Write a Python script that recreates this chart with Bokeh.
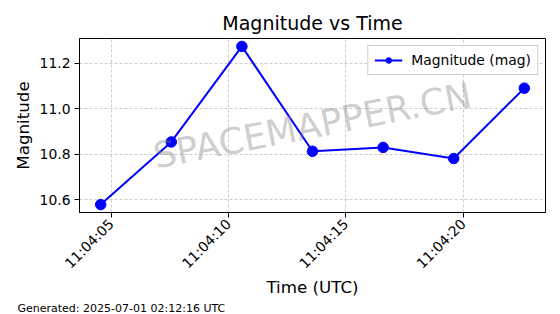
import math
from datetime import datetime, timedelta
from bokeh.plotting import figure
from bokeh.models import (ColumnDataSource, Range1d, DatetimeTickFormatter, SingleIntervalTicker,
                          Label, Legend, LegendItem, Title, NumeralTickFormatter)
from bokeh.embed import file_html
from bokeh.resources import INLINE

# ---- data ----
base = datetime(2025, 7, 1, 11, 4, 0)
seconds = [4.55, 7.56, 10.57, 13.58, 16.59, 19.60, 22.61]
magnitudes = [10.578, 10.854, 11.275, 10.813, 10.830, 10.781, 11.091]
title_text = "Magnitude vs Time"
x_label = "Time (UTC)"
y_label = "Magnitude"
legend_label = "Magnitude (mag)"
watermark = "SPACEMAPPER.CN"
footnote = "Generated: 2025-07-01 02:12:16 UTC"

times = [base + timedelta(seconds=s) for s in seconds]
src = ColumnDataSource(dict(t=times, m=magnitudes))

FONT = "DejaVu Sans"

tmin = min(times); tmax = max(times)
tspan = (tmax - tmin).total_seconds()
xr = Range1d(tmin - timedelta(seconds=0.05 * tspan), tmax + timedelta(seconds=0.05 * tspan))
mmin = min(magnitudes); mmax = max(magnitudes)
mspan = mmax - mmin
yr = Range1d(mmin - 0.05 * mspan, mmax + 0.05 * mspan)

p = figure(width=560, height=314, x_axis_type="datetime", x_range=xr, y_range=yr,
           output_backend="svg", toolbar_location=None,
           min_border_left=79, min_border_right=15, min_border_top=38, min_border_bottom=102)

p.title.text = title_text
p.title.align = "center"
p.title.text_font = FONT
p.title.text_font_size = "19px"
p.title.text_font_style = "normal"
p.title.text_color = "black"

p.outline_line_color = "black"
p.outline_line_width = 1

for ax in (p.xaxis[0], p.yaxis[0]):
    ax.axis_line_color = "black"
    ax.major_tick_line_color = "black"
    ax.major_tick_out = 5
    ax.major_tick_in = 0
    ax.minor_tick_line_color = None
    ax.major_label_text_font = FONT
    ax.major_label_text_font_size = "13.9px"
    ax.major_label_text_color = "black"
    ax.axis_label_text_font = FONT
    ax.axis_label_text_font_size = "16.7px"
    ax.axis_label_text_font_style = "normal"
    ax.axis_label_text_color = "black"
    ax.major_label_standoff = 4

p.xaxis.axis_label = x_label
p.yaxis.axis_label = y_label
p.xaxis.ticker = SingleIntervalTicker(interval=5000, num_minor_ticks=0)
p.xaxis.formatter = DatetimeTickFormatter(seconds="%H:%M:%S", minsec="%H:%M:%S",
                                          milliseconds="%H:%M:%S", minutes="%H:%M:%S")
p.xaxis.major_label_orientation = math.pi / 4
p.yaxis.ticker = SingleIntervalTicker(interval=0.2, num_minor_ticks=0)
p.yaxis.formatter = NumeralTickFormatter(format="0.0")
p.yaxis.axis_label_standoff = 4
p.xaxis.axis_label_standoff = -3

for g in (p.xgrid[0], p.ygrid[0]):
    g.grid_line_color = "#b0b0b0"
    g.grid_line_alpha = 0.8
    g.grid_line_dash = "3 2"
    g.grid_line_width = 0.8

# watermark
wm = Label(x=tmin + (tmax - tmin) / 2, y=(mmin + mmax) / 2, text=watermark,
           angle=11, angle_units="deg", text_align="center", text_baseline="middle",
           text_font=FONT, text_font_size="36px", text_color="gray", text_alpha=0.4)
p.add_layout(wm)

r_line = p.line("t", "m", source=src, line_color="#0000ff", line_width=2)
r_pts = p.scatter("t", "m", source=src, size=10.5, fill_color="#0000ff", line_color="#0000ff")

legend = Legend(items=[LegendItem(label=legend_label, renderers=[r_line, r_pts])],
                location="top_right", margin=7, padding=6, spacing=0,
                glyph_width=28, glyph_height=14, label_standoff=9,
                label_text_font=FONT, label_text_font_size="13.9px",
                label_text_color="black",
                border_line_color="#cccccc", border_line_alpha=1.0,
                background_fill_alpha=0.8)
p.add_layout(legend)

fn = Title(text=footnote, align="left", offset=-62, text_font=FONT, text_font_size="11px",
           text_font_style="normal", text_color="black", standoff=0)
p.add_layout(fn, "below")

open("out.html", "w").write(file_html(p, INLINE))
